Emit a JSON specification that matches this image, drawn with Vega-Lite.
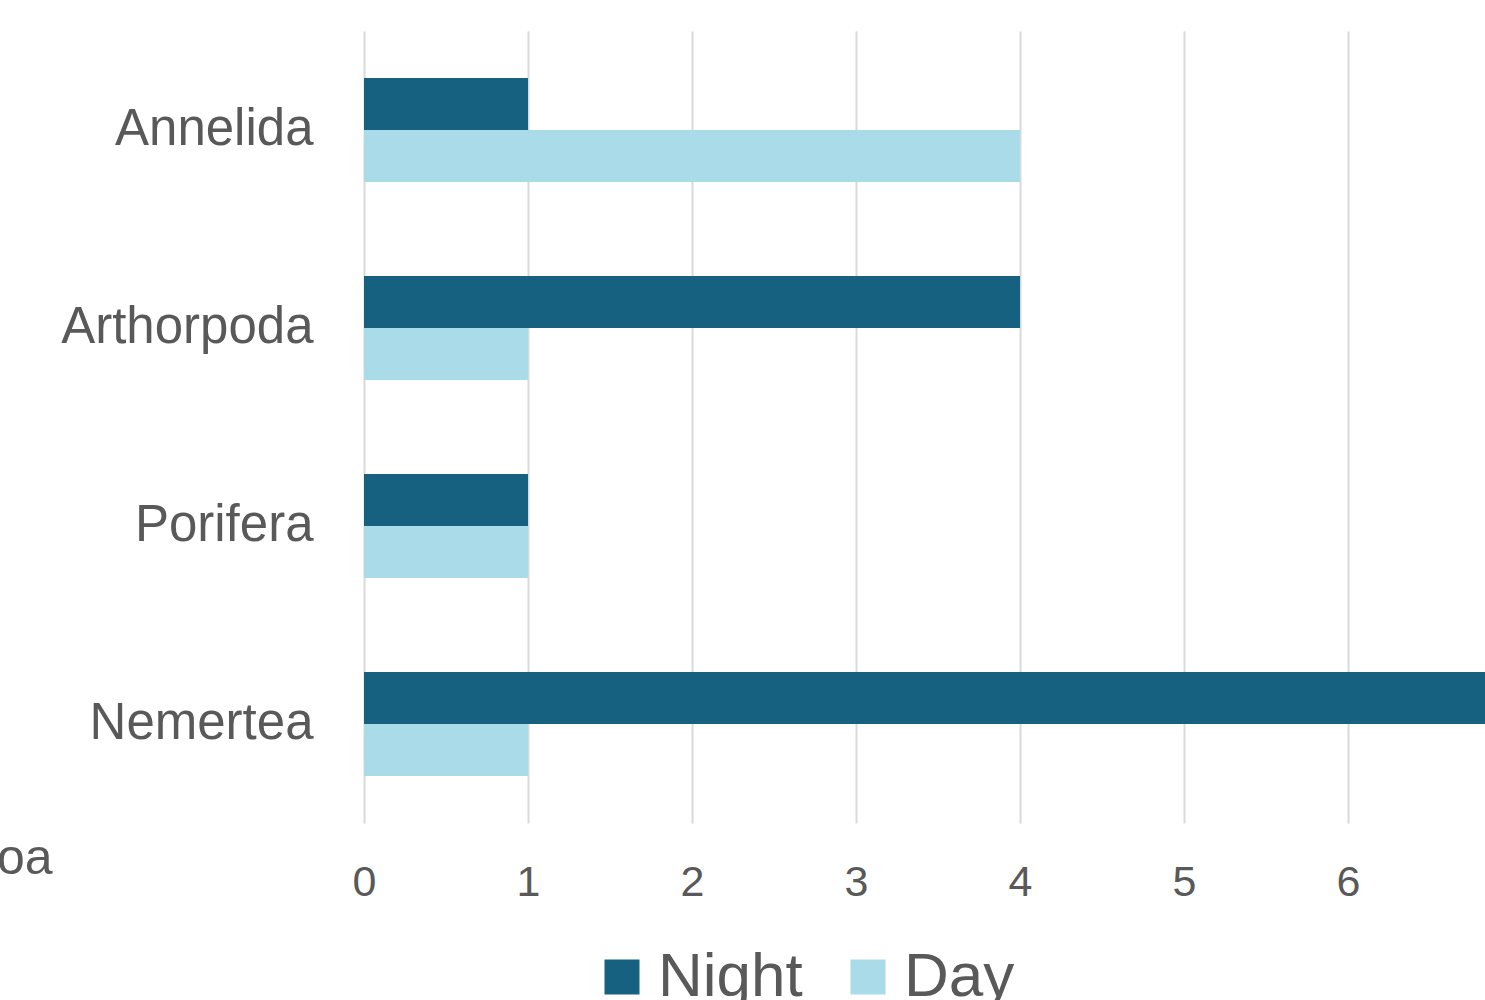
{
  "$schema": "https://vega.github.io/schema/vega-lite/v6.json",
  "autosize": "none",
  "width": 1121,
  "height": 792,
  "padding": {"left": 364, "top": 31, "right": 0, "bottom": 177},
  "background": "white",
  "config": {
    "view": {"stroke": null},
    "font": "Liberation Sans",
    "axis": {"labelColor": "#595959", "titleColor": "#595959", "labelFont": "Liberation Sans", "titleFont": "Liberation Sans"},
    "legend": {"labelColor": "#595959", "labelFont": "Liberation Sans"}
  },
  "data": {
    "values": [
      {"phylum": "Annelida", "period": "Night", "count": 1},
      {"phylum": "Annelida", "period": "Day", "count": 4},
      {"phylum": "Arthorpoda", "period": "Night", "count": 4},
      {"phylum": "Arthorpoda", "period": "Day", "count": 1},
      {"phylum": "Porifera", "period": "Night", "count": 1},
      {"phylum": "Porifera", "period": "Day", "count": 1},
      {"phylum": "Nemertea", "period": "Night", "count": 7},
      {"phylum": "Nemertea", "period": "Day", "count": 1}
    ]
  },
  "mark": {"type": "bar", "clip": true},
  "encoding": {
    "y": {
      "field": "phylum",
      "type": "nominal",
      "sort": ["Annelida", "Arthorpoda", "Porifera", "Nemertea"],
      "scale": {"paddingInner": 0.4747, "paddingOuter": 0.2374},
      "axis": {
        "title": "oa",
        "titleAngle": 0,
        "titleAlign": "right",
        "titleBaseline": "alphabetic",
        "titleX": -312,
        "titleY": 842,
        "titleFontSize": 50,
        "titleFontWeight": "normal",
        "labelFontSize": 51,
        "labelPadding": 51,
        "labelLimit": 0,
        "ticks": false,
        "domain": false
      }
    },
    "yOffset": {"field": "period", "type": "nominal", "sort": ["Night", "Day"]},
    "x": {
      "field": "count",
      "type": "quantitative",
      "scale": {"domain": [0, 6.835], "nice": false, "zero": true},
      "axis": {
        "title": null,
        "values": [0, 1, 2, 3, 4, 5, 6],
        "labelFontSize": 43,
        "labelPadding": 38,
        "labelFlush": false,
        "ticks": false,
        "domain": false,
        "grid": true,
        "gridColor": "#d9d9d9",
        "gridWidth": 2
      }
    },
    "color": {
      "field": "period",
      "type": "nominal",
      "sort": ["Night", "Day"],
      "scale": {"domain": ["Night", "Day"], "range": ["#166080", "#a9dbe8"]},
      "legend": {
        "title": null,
        "orient": "none",
        "direction": "horizontal",
        "legendX": 227,
        "legendY": 915,
        "symbolType": "square",
        "symbolSize": 1225,
        "symbolStrokeWidth": 0,
        "labelFontSize": 62,
        "labelOffset": 5,
        "columnPadding": 34
      }
    }
  }
}
